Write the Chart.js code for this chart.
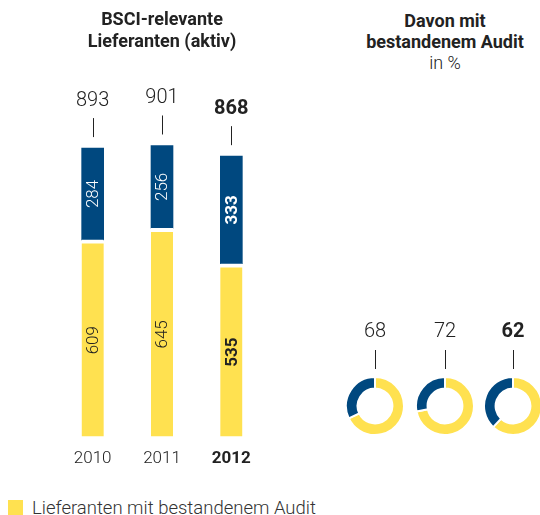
<!DOCTYPE html>
<html>
<head>
<meta charset="utf-8">
<script src="https://cdn.jsdelivr.net/npm/chart.js@4"></script>
<style>
  html, body { margin: 0; padding: 0; background: #fff; }
  body { width: 540px; height: 515px; position: relative; overflow: hidden; font-family: Roboto, sans-serif; color: #222; }
  canvas { position: absolute; }
  #bars { left: 58px; top: 0; }
  .rtitle { position: absolute; left: 345px; top: 10px; width: 200px; text-align: center; font-size: 18px; line-height: 21px; font-weight: bold; }
  .rtitle span { font-weight: 300; }
  .legend { position: absolute; left: 8px; top: 497px; font-size: 18.5px; color: #333; }
  .legend i { position: absolute; left: 0; top: 3px; width: 15px; height: 16px; background: #FFE150; }
  .legend b { position: absolute; left: 24px; top: 0; white-space: nowrap; font-weight: 300; line-height: 22px; }
</style>
</head>
<body>
<canvas id="bars" width="208" height="481"></canvas>
<div class="rtitle">Davon mit<br>bestandenem Audit<br><span>in %</span></div>
<div class="legend"><i></i><b>Lieferanten mit bestandenem Audit</b></div>
<script>
// data
var years = ['2010', '2011', '2012'];
var passed = [609, 645, 535];
var notPassed = [284, 256, 333];
var passedShare = [68, 72, 62];

var YELLOW = '#FFE150';
var BLUE = '#00487F';
var FONT = 'Roboto, sans-serif';
var LAST = years.length - 1;

function weightFor(i) { return i === LAST ? 'bold' : '300'; }

// totals above bars + rotated values inside segments
var barLabels = {
  id: 'barLabels',
  afterDatasetsDraw: function(chart) {
    var c = chart.ctx;
    var yellow = chart.getDatasetMeta(0).data;
    var blue = chart.getDatasetMeta(1).data;
    c.save();
    c.textAlign = 'center';
    c.textBaseline = 'middle';
    years.forEach(function(y, i) {
      var x = blue[i].x;
      var top = blue[i].y;
      // total
      c.fillStyle = '#222';
      c.font = weightFor(i) + ' 20px ' + FONT;
      c.fillText(passed[i] + notPassed[i], x, top - 47);
      c.strokeStyle = '#222';
      c.lineWidth = 1;
      c.beginPath();
      c.moveTo(Math.round(x) + 0.5, top - 30);
      c.lineTo(Math.round(x) + 0.5, top - 11);
      c.stroke();
      // segment values
      c.font = weightFor(i) + ' 17px ' + FONT;
      [[blue[i], notPassed[i], '#fff', 0], [yellow[i], passed[i], '#222', 2]].forEach(function(s) {
        var el = s[0];
        var cy = (el.y + el.base) / 2 + s[3];
        c.save();
        c.translate(el.x, cy);
        c.rotate(-Math.PI / 2);
        c.fillStyle = s[2];
        c.fillText(s[1], 0, 1);
        c.restore();
      });
    });
    c.restore();
  }
};

new Chart(document.getElementById('bars'), {
  type: 'bar',
  data: {
    labels: years,
    datasets: [{
      label: 'Lieferanten mit bestandenem Audit',
      data: passed,
      backgroundColor: YELLOW,
      borderColor: '#fff',
      borderWidth: { top: 4, left: 0, right: 0, bottom: 0 },
      borderSkipped: 'bottom',
      barThickness: 22
    }, {
      label: 'ohne bestandenes Audit',
      data: notPassed,
      backgroundColor: BLUE,
      borderWidth: 0,
      barThickness: 22
    }]
  },
  options: {
    responsive: false,
    animation: false,
    layout: { padding: 0 },
    plugins: {
      legend: { display: false },
      tooltip: { enabled: false },
      title: {
        display: true,
        text: ['BSCI-relevante', 'Lieferanten (aktiv)'],
        color: '#222',
        font: { family: FONT, size: 18, weight: 'bold', lineHeight: 1.2 },
        padding: { top: 10, bottom: 28 }
      }
    },
    scales: {
      x: {
        stacked: true,
        grid: { display: false, drawTicks: false },
        border: { display: false },
        ticks: {
          padding: 12,
          color: '#222',
          font: function(ctx) { return { family: FONT, size: 17, weight: weightFor(ctx.index) }; }
        }
      },
      y: { stacked: true, display: false, min: 0, max: 1100 }
    }
  },
  plugins: [barLabels]
});

// doughnuts
var ringLabel = {
  id: 'ringLabel',
  afterDatasetsDraw: function(chart) {
    var c = chart.ctx;
    var arc = chart.getDatasetMeta(0).data[0];
    var top = arc.y - arc.outerRadius;
    var i = chart.options.plugins.ringLabel.index;
    c.save();
    c.textAlign = 'center';
    c.textBaseline = 'middle';
    c.fillStyle = '#222';
    c.font = weightFor(i) + ' 20px ' + FONT;
    c.fillText(passedShare[i], arc.x, top - 45);
    c.strokeStyle = '#222';
    c.lineWidth = 1;
    c.beginPath();
    c.moveTo(Math.round(arc.x) + 0.5, top - 27);
    c.lineTo(Math.round(arc.x) + 0.5, top - 8);
    c.stroke();
    c.restore();
  }
};

var ringCenters = [375, 445, 513];
passedShare.forEach(function(v, i) {
  var cv = document.createElement('canvas');
  cv.width = 60;
  cv.height = 140;
  cv.style.left = (ringCenters[i] - 30) + 'px';
  cv.style.top = '296px';
  document.body.appendChild(cv);
  new Chart(cv, {
    type: 'doughnut',
    data: {
      labels: ['mit Audit', 'ohne Audit'],
      datasets: [{
        data: [v, 100 - v],
        backgroundColor: [YELLOW, BLUE],
        borderColor: '#fff',
        borderWidth: 2
      }]
    },
    options: {
      responsive: false,
      animation: false,
      cutout: '60%',
      layout: { padding: { top: 80 } },
      plugins: {
        legend: { display: false },
        tooltip: { enabled: false },
        ringLabel: { index: i }
      }
    },
    plugins: [ringLabel]
  });
});
</script>
</body>
</html>
